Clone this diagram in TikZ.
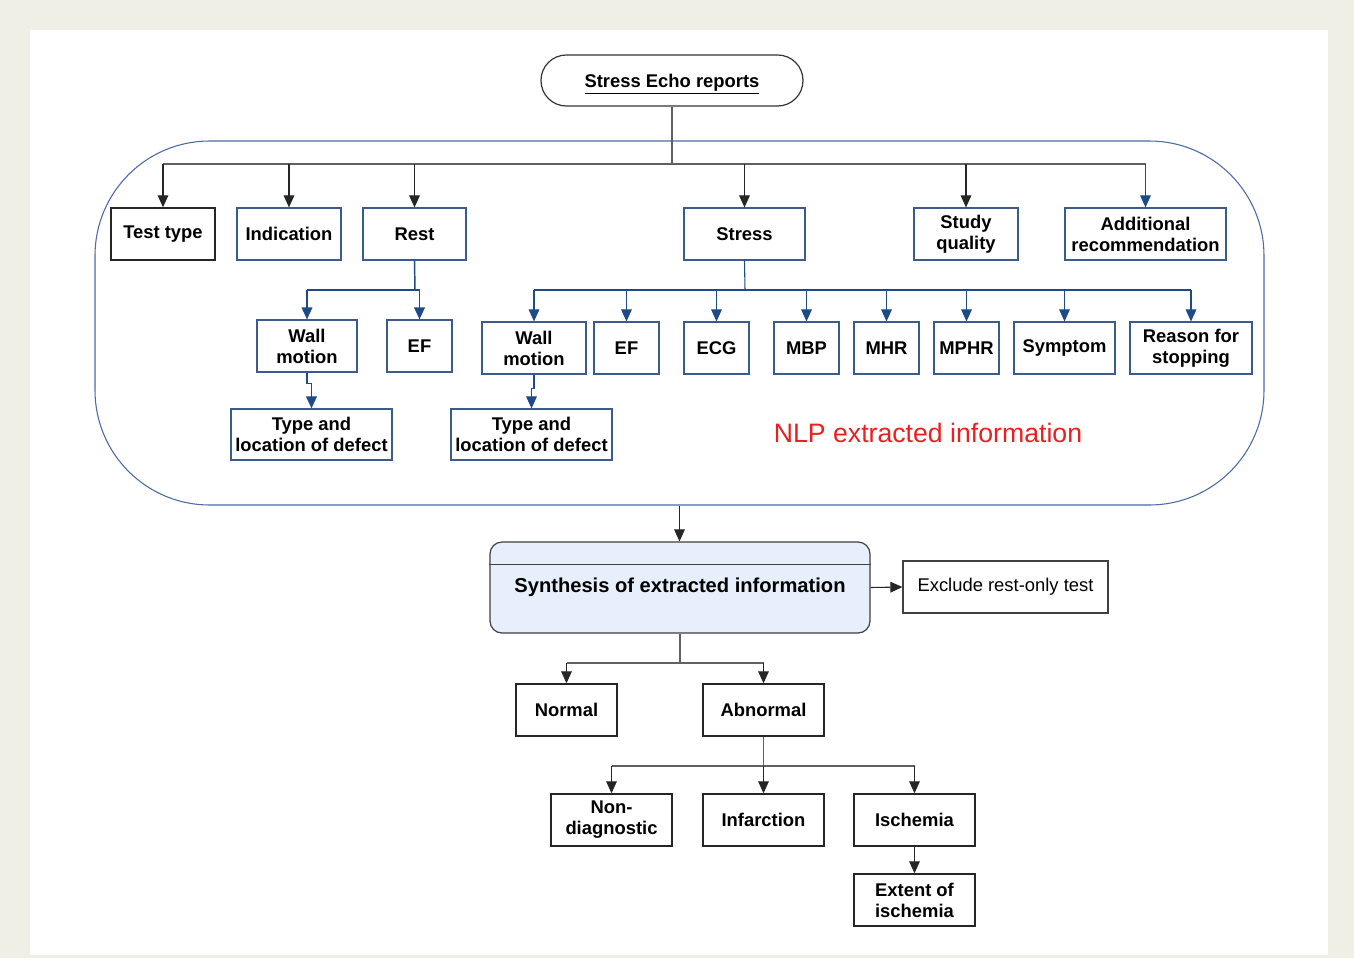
\documentclass[tikz,border=0pt]{standalone}
\usepackage{fontspec}
\setmainfont{Liberation Sans}
\usetikzlibrary{arrows.meta,calc}
\definecolor{bg}{HTML}{EFEFE5}
\definecolor{bblue}{HTML}{3B5B8E}
\definecolor{ablue}{HTML}{1F4A8A}
\definecolor{fblue}{HTML}{4A6AA5}
\definecolor{synfill}{HTML}{E6EFFB}
\definecolor{gline}{HTML}{606060}
\definecolor{nlpred}{HTML}{E82020}
\begin{document}
\begin{tikzpicture}[x=0.75pt,y=-0.75pt,
 w/.style={minimum width=#1*0.75pt},
 h/.style={minimum height=#1*0.75pt},
 base/.style={inner sep=0pt, align=center, font=\fontsize{13.8}{15.75}\selectfont\bfseries, h=52},
 bbox/.style={base, draw=bblue, line width=0.9pt},
 kbox/.style={base, draw=black!85, line width=1.1pt},
 tip/.style={-{Triangle[length=9pt,width=8pt]}},
 kline/.style={draw=gline, line width=0.8pt},
 karr/.style={draw=black!85, line width=0.8pt, tip},
 bline/.style={draw=ablue, line width=1.1pt},
 barr/.style={bline, tip},
 sline/.style={draw=ablue, line width=0.8pt},
 sarr/.style={sline, tip},
]
\fill[bg] (0,0) rectangle (1354,958);
\fill[white] (30,30) rectangle (1328,955);
\useasboundingbox (0,0) rectangle (1354,958);

% frame
\node[draw=fblue, line width=0.8pt, rounded corners=86pt, w=1169, minimum height=364*0.75pt, inner sep=0pt] (frame) at (679.5,323) {};

% title
\node[base, w=262, h=51, draw=black!80, rounded corners=19pt, line width=0.9pt, text depth=0pt] (title) at (672,80.5) {\underline{Stress Echo reports}};

% row 1
\node[kbox, w=104] (testtype) at (163,234) {Test type};
\node[bbox, w=104] (indication) at (289,234) {Indication};
\node[bbox, w=103] (rest) at (414.5,234) {Rest};
\node[bbox, w=121] (stress) at (744.5,234) {Stress};
\node[bbox, w=104] (study) at (966,234) {Study\\quality};
\node[bbox, w=161] (addl) at (1145.5,234) {Additional\\recommendation};

% rest children
\node[bbox, w=100] (wmr) at (307,346) {Wall\\motion};
\node[bbox, w=65] (efr) at (419.5,346) {EF};
\node[bbox, w=161, h=51] (tlr) at (311.5,434.5) {Type and\\location of defect};

% stress children
\node[bbox, w=104] (wms) at (534,348) {Wall\\motion};
\node[bbox, w=65] (efs) at (626.5,348) {EF};
\node[bbox, w=65] (ecg) at (716.5,348) {ECG};
\node[bbox, w=65] (mbp) at (806.5,348) {MBP};
\node[bbox, w=65] (mhr) at (886.5,348) {MHR};
\node[bbox, w=65] (mphr) at (966.5,348) {MPHR};
\node[bbox, w=101] (symptom) at (1064.5,348) {Symptom};
\node[bbox, w=122] (reason) at (1191,348) {Reason for\\stopping};
\node[bbox, w=161, h=51] (tls) at (531.5,434.5) {Type and\\location of defect};

\node[text=nlpred, font=\fontsize{20}{24}\selectfont, inner sep=0pt] (nlp) at (928,433) {NLP extracted information};

% synthesis
\node[base, font=\fontsize{15.1}{18}\selectfont\bfseries, w=380, h=91, draw=black!75, fill=synfill, rounded corners=9pt, line width=0.9pt] (syn) at (680,587.5) {Synthesis of extracted information};
\draw[black!75, line width=0.9pt] ($(syn.north west)+(0,23)$) -- ($(syn.north east)+(0,23)$);
\node[base, font=\fontsize{13.8}{15.75}\selectfont, draw=black!75, line width=0.9pt, w=205] (excl) at (1005.5,587) {Exclude rest-only test};

% bottom
\node[kbox, w=101] (normal) at (566.5,710) {Normal};
\node[kbox, w=121] (abnormal) at (763.5,710) {Abnormal};
\node[kbox, w=121] (nondiag) at (611.5,820) {Non-\\diagnostic};
\node[kbox, w=121] (infarction) at (763.5,820) {Infarction};
\node[kbox, w=121] (ischemia) at (914.5,820) {Ischemia};
\node[kbox, w=121] (extent) at (914.5,900) {Extent of\\ischemia};

% junctions
\coordinate (j1) at (672,164);
\coordinate (jr) at (415,290);
\coordinate (js) at (745,290);
\coordinate (jn) at (680,663);
\coordinate (ja) at (763.5,766);

% top connectors
\draw[kline] (title.south) -- (j1);
\draw[kline] (j1 -| testtype.north) -- (j1 -| addl.north);
\foreach \n in {testtype,indication,rest,stress,study}
  \draw[karr] (j1 -| \n.north) -- (\n.north);
\draw[sarr] (j1 -| addl.north) -- (addl.north);

% rest connectors
\draw[bline] (rest.south) -- (jr);
\draw[bline] (jr -| wmr.north) -- (jr -| efr.north);
\draw[barr] (jr -| wmr.north) -- (wmr.north);
\draw[barr] (jr -| efr.north) -- (efr.north);
\draw[barr] (wmr.south) -- ++(0,11) -| (tlr.north);

% stress connectors
\draw[sline] (stress.south) -- (js);
\draw[sline] (js -| wms.north) -- (js -| reason.north);
\foreach \n in {wms,efs,ecg,mbp,mhr,mphr,symptom,reason}
  \draw[sarr] (js -| \n.north) -- (\n.north);
\draw[sarr] (wms.south) -- ++(0,14) -| (tls.north);

% synthesis connectors
\draw[karr] (frame.south) -- (frame.south |- syn.north);
\draw[karr] (syn.east) -- (excl.west);
\draw[kline] (syn.south) -- (jn);
\draw[kline] (jn -| normal.north) -- (jn -| abnormal.north);
\draw[karr] (jn -| normal.north) -- (normal.north);
\draw[karr] (jn -| abnormal.north) -- (abnormal.north);

\draw[kline] (abnormal.south) -- (ja);
\draw[kline] (ja -| nondiag.north) -- (ja -| ischemia.north);
\draw[karr] (ja -| nondiag.north) -- (nondiag.north);
\draw[karr] (ja -| ischemia.north) -- (ischemia.north);
\draw[karr] (ja) -- (infarction.north);
\draw[karr] (ischemia.south) -- (extent.north);
\end{tikzpicture}
\end{document}
